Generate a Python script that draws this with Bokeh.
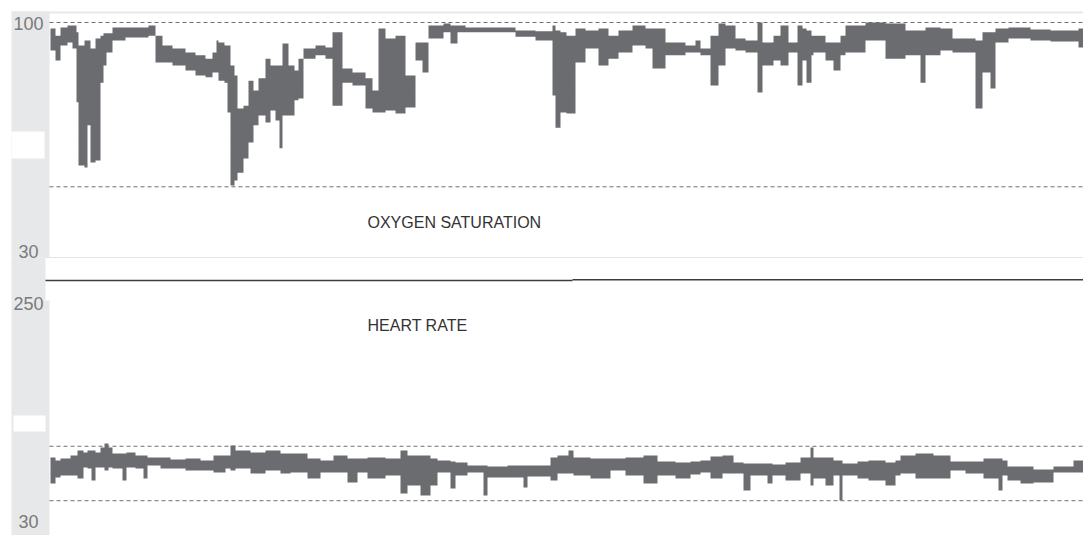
from bokeh.plotting import figure
from bokeh.models import Range1d, Label
from bokeh.embed import file_html
from bokeh.resources import INLINE

# ---------------- data (time in minutes from start of record) ----------------
T_END = 1034

spo2_t = [1, 6, 11, 18, 23, 27, 29, 35, 38, 41, 46, 51, 54, 57, 63, 76, 99, 106, 113, 123,
          136, 146, 156, 163, 167, 169, 175, 178, 181, 185, 188, 194, 199, 204, 209, 216, 221, 226, 230, 233,
          239, 245, 249, 254, 266, 276, 283, 293, 303, 316, 323, 329, 336, 346, 356, 366, 373, 379, 394, 401,
          408, 416, 466, 486, 503, 506, 511, 517, 526, 536, 549, 559, 569, 583, 596, 603, 616, 636, 646, 651,
          661, 669, 676, 686, 696, 708, 713, 724, 731, 739, 748, 753, 757, 762, 764, 776, 784, 791, 796, 816, 836, 856, 871, 876, 891, 903,
          926, 933, 941, 946, 959, 981, 1001, 1029]
spo2_hi = [98.2, 96.0, 98.5, 99.1, 99.1, 97.0, 93.0, 94.5, 94.5, 92.1, 95.1, 96.0, 96.7, 96.7, 98.5, 98.5, 99.1, 96.0, 93.0, 92.1,
           90.9, 90.0, 89.0, 90.9, 94.5, 93.9, 93.0, 93.0, 86.9, 83.9, 73.8, 74.7, 82.3, 79.3, 83.0, 89.0, 86.9, 86.9, 86.9, 93.6,
           86.9, 85.4, 89.0, 92.1, 93.0, 92.4, 97.0, 86.0, 84.8, 83.0, 79.3, 98.2, 95.1, 96.0, 83.9, 93.9, 93.9, 99.1, 99.7, 99.1,
           99.1, 98.5, 97.6, 97.3, 99.1, 97.6, 97.0, 96.0, 98.2, 97.6, 98.2, 96.0, 97.6, 99.1, 98.2, 98.2, 93.9, 93.0, 94.5, 92.1,
           96.0, 99.7, 99.1, 95.1, 94.5, 100.0, 93.9, 96.0, 99.1, 93.9, 99.1, 98.2, 97.6, 96.0, 96.0, 93.9, 93.9, 96.0, 99.1, 100.0, 99.7, 97.6, 97.6, 98.5, 98.2, 95.1,
           94.5, 97.0, 97.0, 98.2, 98.5, 97.9, 97.6, 98.2]
spo2_lo = [91.5, 88.4, 93.0, 93.9, 92.1, 75.7, 56.5, 55.9, 68.7, 57.4, 58.0, 81.7, 86.9, 90.9, 94.5, 95.4, 96.0, 87.8, 87.8, 86.9,
           85.4, 83.9, 83.3, 84.8, 84.8, 82.3, 81.7, 72.6, 50.4, 51.9, 54.3, 58.6, 63.5, 68.7, 71.7, 69.6, 73.2, 70.2, 61.7, 71.7,
           71.7, 76.3, 76.9, 89.0, 90.0, 89.0, 74.7, 81.7, 80.8, 73.8, 72.6, 72.6, 73.2, 72.3, 74.1, 88.4, 84.8, 95.1, 97.0, 93.6,
           97.0, 97.0, 95.7, 94.5, 77.8, 68.0, 72.6, 72.3, 87.8, 92.1, 86.9, 89.0, 90.9, 93.0, 92.1, 86.0, 90.0, 90.9, 90.9, 90.0,
           80.8, 86.9, 92.1, 91.5, 90.9, 78.7, 86.9, 88.4, 86.9, 90.9, 80.8, 88.4, 81.7, 90.0, 90.9, 88.4, 85.4, 90.0, 90.9, 94.5, 89.0, 90.0, 81.7, 90.0, 91.5, 90.9,
           73.8, 84.8, 79.9, 93.9, 95.1, 94.5, 94.2, 92.4]

hr_t = [1, 6, 11, 21, 28, 34, 38, 42, 46, 51, 55, 59, 63, 73, 77, 86, 94, 98, 111, 121,
        136, 151, 164, 176, 181, 186, 201, 216, 231, 241, 258, 271, 284, 298, 308, 318, 336, 351, 358, 371,
        381, 388, 401, 406, 418, 434, 438, 458, 474, 478, 501, 508, 519, 524, 541, 561, 576, 594, 608, 626,
        641, 651, 661, 673, 684, 694, 701, 718, 723, 736, 751, 761, 764, 776, 784, 790, 793, 808, 819, 836,
        846, 851, 866, 884, 901, 916, 934, 949, 953, 958, 971, 984, 1004, 1024]
hr_hi = [101.1, 98.1, 100.1, 103.0, 107.9, 105.9, 107.9, 107.9, 105.9, 110.8, 114.7, 110.8, 104.9, 104.9, 105.9, 103.0, 103.0, 101.1, 101.1, 99.1,
         100.1, 98.1, 103.0, 103.0, 112.7, 107.9, 105.9, 107.9, 104.9, 104.9, 100.1, 98.1, 103.0, 100.1, 100.1, 101.1, 100.1, 107.9, 103.0, 103.0,
         100.1, 98.1, 97.2, 96.2, 93.3, 93.3, 92.3, 93.3, 93.3, 93.3, 101.1, 103.0, 107.9, 101.1, 100.1, 100.1, 101.1, 103.0, 97.2, 96.2,
         97.2, 98.1, 102.0, 103.0, 96.2, 95.2, 95.2, 95.2, 94.3, 96.2, 101.1, 110.8, 101.1, 101.1, 98.1, 98.1, 95.2, 97.2, 98.1, 96.2,
         98.1, 103.0, 104.9, 103.0, 97.2, 97.2, 100.1, 100.1, 98.1, 92.3, 92.3, 89.4, 92.3, 98.1]
hr_lo = [75.7, 81.6, 83.5, 83.5, 80.6, 91.3, 90.4, 78.7, 91.3, 91.3, 88.4, 91.3, 90.4, 78.7, 91.3, 90.4, 80.6, 93.3, 90.4, 90.4,
         88.4, 88.4, 86.5, 90.4, 88.4, 90.4, 85.5, 88.4, 85.5, 86.5, 80.6, 86.5, 86.5, 76.7, 86.5, 80.6, 83.5, 66.0, 73.8, 64.1,
         73.8, 86.5, 70.9, 83.5, 86.5, 64.1, 81.6, 81.6, 71.9, 82.6, 78.7, 85.5, 85.5, 83.5, 80.6, 88.4, 83.5, 75.7, 83.5, 80.6,
         84.5, 86.5, 80.6, 85.5, 85.5, 68.9, 83.5, 75.7, 83.5, 78.7, 85.5, 73.8, 80.6, 73.8, 83.5, 59.2, 83.5, 80.6, 78.7, 73.8,
         83.5, 85.5, 80.6, 80.6, 88.4, 85.5, 80.6, 68.9, 83.5, 78.7, 75.7, 76.7, 86.5, 86.5]

spo2_ticks = [100, 30]
spo2_limits = [100, 50]
hr_ticks = [250, 30]
hr_limits = [112, 59]
titles = ["OXYGEN SATURATION", "HEART RATE"]

assert len(spo2_t) == len(spo2_hi) == len(spo2_lo)
assert len(hr_t) == len(hr_hi) == len(hr_lo)

# ---------------- layout (window pixel anchors) ----------------
W, H = 1083, 535
TOP, BOT, LEFT, RIGHT = 0, H, 0, W
X0 = 49  # window x of t = 0

spo2_scale = (252 - 22) / (100 - 30)          # px per % (100 at y=22, 30 at y=252)
hr_scale = (530 - 304) / (250 - 30)           # px per bpm (250 at y=304, 30 at y=530)

p = figure(width=W, height=H, output_backend="svg", toolbar_location=None,
           x_axis_location=None, y_axis_location=None,
           x_range=Range1d(LEFT - X0, RIGHT - X0),
           y_range=Range1d(BOT, TOP), min_border=0)
p.extra_x_ranges = {"px": Range1d(LEFT, RIGHT)}
p.extra_y_ranges = {
    "spo2": Range1d(100 - (BOT - 22) / spo2_scale, 100 + (22 - TOP) / spo2_scale),
    "hr": Range1d(250 - (BOT - 304) / hr_scale, 250 + (304 - TOP) / hr_scale),
}
p.grid.visible = False
p.outline_line_color = None
p.background_fill_color = "white"
p.border_fill_color = "white"

STRIP = "#e7e8e9"
# panel frame decorations
p.quad(left=[11], right=[RIGHT], bottom=[13], top=[11], x_range_name="px", color=STRIP, line_color=None)
p.quad(left=[11, 11, 11], right=[49, 45, 49], top=[11, 257, 300], bottom=[257, 300, BOT],
       x_range_name="px", color=STRIP, line_color=None)
p.quad(left=[11, 13], right=[44, 45], top=[131, 415], bottom=[158, 431],
       x_range_name="px", color="white", line_color=None)
p.quad(left=[45], right=[RIGHT], top=[256.5], bottom=[257.5], x_range_name="px", color="#e4e4e4", line_color=None)
p.quad(left=[45, 572], right=[572, RIGHT], top=[279.3, 278.4], bottom=[280.8, 279.9],
       x_range_name="px", color="#3c3c3c", line_color=None)


def step_band(t, lo, hi, end):
    xs, y1, y2 = [], [], []
    bounds = list(t[1:]) + [end]
    for i in range(len(t)):
        xs += [t[i], bounds[i]]
        y1 += [lo[i], lo[i]]
        y2 += [hi[i], hi[i]]
    return xs, y1, y2


# limit lines
for v in spo2_limits:
    p.line([0, T_END], [v, v], y_range_name="spo2", line_color="#6f6f6f", line_dash="4 3", line_width=1)
for v in hr_limits:
    p.line([0, T_END], [v, v], y_range_name="hr", line_color="#6f6f6f", line_dash="4 3", line_width=1)

DATA = "#6b6c70"
xs, y1, y2 = step_band(spo2_t, spo2_lo, spo2_hi, T_END)
p.varea(x=xs, y1=y1, y2=y2, y_range_name="spo2", fill_color=DATA)
xs, y1, y2 = step_band(hr_t, hr_lo, hr_hi, T_END)
p.varea(x=xs, y1=y1, y2=y2, y_range_name="hr", fill_color=DATA)

# tick labels on the grey strip
FONT = "Liberation Sans"
for txt, y in zip([str(spo2_ticks[0]), str(spo2_ticks[1]), str(hr_ticks[0]), str(hr_ticks[1])],
                  [22.5, 251, 302.5, 521]):
    p.add_layout(Label(x=28, y=y, x_range_name="px", text=txt, text_align="center",
                       text_baseline="alphabetic", text_font=FONT, text_font_size="18px",
                       text_color="#7a7a7a"))

for txt, y in zip(titles, [222, 324.5]):
    p.add_layout(Label(x=367, y=y, x_range_name="px", text=txt, text_align="left",
                       text_baseline="alphabetic", text_font=FONT, text_font_size="16px",
                       text_color="#333333"))

open("out.html", "w").write(file_html(p, INLINE))
